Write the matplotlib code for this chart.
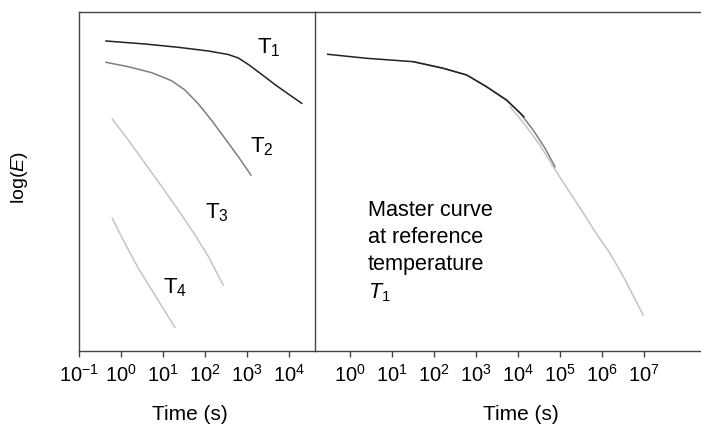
import numpy as np
import matplotlib.pyplot as plt
import matplotlib as mpl

mpl.rcParams['font.family'] = ['Liberation Sans', 'DejaVu Sans']
mpl.rcParams['mathtext.fontset'] = 'custom'
mpl.rcParams['mathtext.rm'] = 'Liberation Sans'
mpl.rcParams['mathtext.it'] = 'Liberation Sans:italic'

# log10(time) and log(E) (arbitrary units)
t1_logt = [-0.35, 0.58, 1.37, 2.09, 2.56, 2.80, 3.04, 3.36, 3.67, 3.99, 4.31]
t1_logE = [310, 307, 303.7, 300, 296.5, 293, 286.5, 276.5, 266.5, 257, 247.7]
t2_logt = [-0.35, 0.18, 0.74, 1.21, 1.53, 1.85, 2.17, 2.48, 2.80, 3.10]
t2_logE = [288.7, 284.3, 278.3, 270.3, 261, 247, 230.3, 212.7, 194.3, 176]
t3_logt = [-0.20, 0.18, 0.58, 0.98, 1.37, 1.77, 2.09, 2.44]
t3_logE = [232, 211, 187.7, 164.3, 141, 116, 94.3, 66]
t4_logt = [-0.20, 0.10, 0.42, 0.74, 1.01, 1.29]
t4_logE = [132.7, 107.7, 82.7, 61, 42.7, 23.7]

# master curve pieces (shifted to reference temperature T1)
m1_logt = [-0.53, 0.40, 1.51, 2.22, 2.78, 3.25, 3.73, 4.14]
m1_logE = [296.7, 292.7, 289.3, 282.7, 276, 264.3, 251, 234.3]
m2_logt = [1.51, 2.22, 2.78, 3.25, 3.73, 4.05, 4.36, 4.64, 4.88]
m2_logE = [289.3, 282.7, 276, 264.3, 250.5, 238, 221, 203, 184.3]
m3_logt = [3.81, 4.17, 4.52, 5.04, 5.56, 5.87, 6.19, 6.51, 6.98]
m3_logE = [244.3, 226, 206, 171, 137.7, 117, 97.7, 74.3, 36]

left_ticks = [-1, 0, 1, 2, 3, 4]
right_ticks = [0, 1, 2, 3, 4, 5, 6, 7]

black = '#222222'
mid = '#7f7f7f'
light = '#c4c4c4'
spine = '#444444'

fig = plt.figure(figsize=(7.01, 4.26), dpi=100)
ax1 = fig.add_axes([78.7/701, 75/426, 236.6/701, 339/426])
ax2 = fig.add_axes([315.3/701, 75/426, 385.7/701, 339/426])
ax2.patch.set_visible(False)

def p(lt):
    return 10.0 ** np.array(lt)

ax1.plot(p(t1_logt), t1_logE, color=black, lw=1.1)
ax1.plot(p(t2_logt), t2_logE, color=mid, lw=1.1)
ax1.plot(p(t3_logt), t3_logE, color=light, lw=1.1)
ax1.plot(p(t4_logt), t4_logE, color=light, lw=1.1)

ax2.plot(p(m3_logt), m3_logE, color=light, lw=1.1)
ax2.plot(p(m2_logt), m2_logE, color=mid, lw=1.1)
ax2.plot(p(m1_logt), m1_logE, color=black, lw=1.1)

ax1.set_xscale('log')
ax2.set_xscale('log')
ax1.set_xlim(10**-1, 10**4.633)
ax2.set_xlim(10**-0.826, 10**8.357)
for ax in (ax1, ax2):
    ax.set_ylim(0, 339)
    ax.set_yticks([])
    ax.tick_params(axis='x', direction='out', length=4, width=1, color=spine,
                   labelsize=14.5, pad=5)
    for s in ax.spines.values():
        s.set_color(spine)
        s.set_linewidth(1)
    ax.set_xlabel('Time (s)', fontsize=15)

ax1.set_xticks(p(left_ticks))
ax2.set_xticks(p(right_ticks))
ax1.xaxis.set_minor_locator(mpl.ticker.NullLocator())
ax2.xaxis.set_minor_locator(mpl.ticker.NullLocator())
ax2.spines['left'].set_visible(False)
ax2.spines['right'].set_visible(False)

ax1.xaxis.set_label_coords(0.47, -0.158)
ax2.xaxis.set_label_coords(0.533, -0.158)

lab = dict(fontsize=16, va='baseline', ha='left')
ax1.text(10**3.245, 298, r'$\mathregular{T_1}$', **lab)
ax1.text(10**3.08, 199, r'$\mathregular{T_2}$', **lab)
ax1.text(10**2.007, 133, r'$\mathregular{T_3}$', **lab)
ax1.text(10**1.007, 58, r'$\mathregular{T_4}$', **lab)

ax2.text(10**0.43, 151, 'Master curve\nat reference\ntemperature\n$T_1$',
         fontsize=15.6, va='top', ha='left', linespacing=1.38)

fig.text(19/701, 1 - 178/426, 'log($E$)', rotation=90, ha='center',
         va='center', fontsize=14)

fig.savefig('out.png', dpi=100)
